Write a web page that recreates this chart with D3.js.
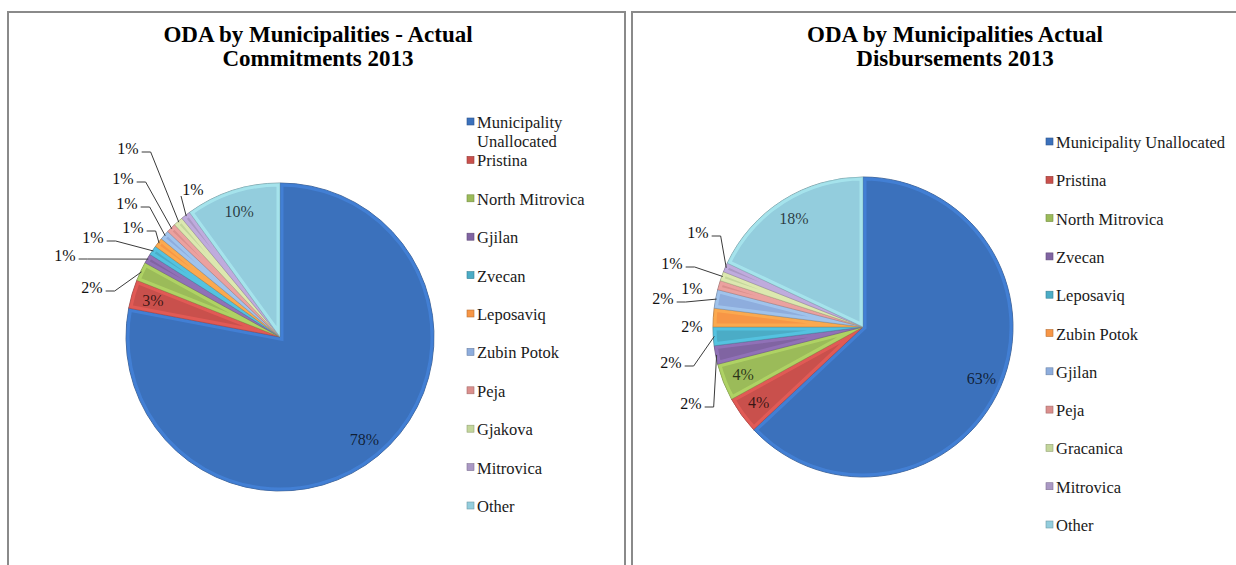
<!DOCTYPE html>
<html>
<head>
<meta charset="utf-8">
<script src="https://cdn.jsdelivr.net/npm/d3@7"></script>
<style>
  html, body { margin: 0; padding: 0; background: #ffffff; }
  svg { display: block; }
</style>
</head>
<body>
<svg id="chart" width="1236" height="565" font-family="'Liberation Serif', 'Times New Roman', Times, serif"></svg>
<script>
// ---------- DATA ----------
const leftTitle = ["ODA by Municipalities - Actual", "Commitments 2013"];
const leftCategories = ["Municipality Unallocated", "Pristina", "North Mitrovica", "Gjilan", "Zvecan",
  "Leposaviq", "Zubin Potok", "Peja", "Gjakova", "Mitrovica", "Other"];
const leftValues = [78, 3, 2, 1, 1, 1, 1, 1, 1, 1, 10];

const rightTitle = ["ODA by Municipalities Actual", "Disbursements 2013"];
const rightCategories = ["Municipality Unallocated", "Pristina", "North Mitrovica", "Zvecan", "Leposaviq",
  "Zubin Potok", "Gjilan", "Peja", "Gracanica", "Mitrovica", "Other"];
const rightValues = [63, 4, 4, 2, 2, 2, 2, 1, 1, 1, 18];

// ---------- STYLE / LAYOUT ----------
const FONT = "'Liberation Serif', 'Times New Roman', Times, serif";
const palette = ["#3B71BC", "#C9504C", "#9BBB59", "#8064A2", "#4BACC6", "#F79646",
  "#8EADDD", "#DB8F8D", "#C3D69B", "#AA98C4", "#93CDDD"];

// label placement for each slice: null = inside label; otherwise offset of text center from pie center
const leftLabelLayout = [
  null, null,
  {dx: -188, dy: -50, lead: "right"},
  {dx: -215, dy: -82, lead: "right"},
  {dx: -187, dy: -100, lead: "right"},
  {dx: -147, dy: -110, lead: "right"},
  {dx: -153, dy: -134, lead: "right"},
  {dx: -157, dy: -159, lead: "right"},
  {dx: -152, dy: -189, lead: "right"},
  {dx: -87, dy: -148, lead: "bl"},
  null
];
const rightLabelLayout = [
  null, null, null,
  {dx: -172, dy: 76, lead: "right"},
  {dx: -192, dy: 35, lead: "right"},
  {dx: -171, dy: -1, lead: "none"},
  {dx: -200, dy: -29, lead: "right"},
  {dx: -171, dy: -39, lead: "none"},
  {dx: -191, dy: -64, lead: "right"},
  {dx: -165, dy: -95, lead: "right"},
  null
];

const svg = d3.select("#chart");
const defs = svg.append("defs");

// panels
svg.append("rect").attr("x", 8).attr("y", 12).attr("width", 617).attr("height", 620)
  .attr("fill", "#fff").attr("stroke", "#8a8a8a").attr("stroke-width", 2);
svg.append("rect").attr("x", 632).attr("y", 12).attr("width", 660).attr("height", 620)
  .attr("fill", "#fff").attr("stroke", "#8a8a8a").attr("stroke-width", 2);

function drawChart(opt) {
  const g = svg.append("g").attr("font-family", FONT);
  // title (two separate lines)
  opt.title.forEach((line, i) => {
    g.append("text").attr("x", opt.titleX).attr("y", 42 + i * 23.5).attr("font-family", FONT)
      .attr("text-anchor", "middle").attr("font-size", 23).attr("font-weight", "bold").attr("fill", "#000")
      .text(line);
  });

  const data = opt.categories.map((c, i) => ({cat: c, value: opt.values[i], color: palette[i], i}));
  const pie = d3.pie().sort(null).value(d => d.value).startAngle(0).endAngle(2 * Math.PI);
  const arcs = pie(data);
  const r = opt.r;
  const arc = d3.arc().innerRadius(0).outerRadius(r);
  const pg = g.append("g").attr("transform", `translate(${opt.cx},${opt.cy})`);

  arcs.forEach((a, k) => {
    const id = `${opt.id}-clip-${k}`;
    defs.append("clipPath").attr("id", id).append("path").attr("d", arc(a))
      .attr("transform", `translate(${opt.cx},${opt.cy})`);
    pg.append("path").attr("d", arc(a)).attr("fill", a.data.color);
    const hl = g.append("g").attr("clip-path", `url(#${id})`);
    hl.append("path").attr("d", arc(a)).attr("transform", `translate(${opt.cx},${opt.cy})`)
      .attr("fill", "none").attr("stroke", d3.color(a.data.color).brighter(0.7))
      .attr("stroke-width", 7).attr("stroke-opacity", 0.45);
    pg.append("path").attr("d", arc(a)).attr("fill", "none")
      .attr("stroke", d3.color(a.data.color).darker(1.2)).attr("stroke-width", 0.9).attr("stroke-opacity", 0.85);
  });

  // labels
  const lg = g.append("g").attr("transform", `translate(${opt.cx},${opt.cy})`);
  arcs.forEach((a, k) => {
    const lay = opt.layout[k];
    const pct = Math.round(a.data.value) + "%";
    const mid = (a.startAngle + a.endAngle) / 2;
    if (!lay) {
      const rr = r * 0.86;
      lg.append("text").attr("x", rr * Math.sin(mid)).attr("y", -rr * Math.cos(mid)).attr("font-family", FONT)
        .attr("dy", "0.35em").attr("text-anchor", "middle").attr("font-size", 16)
        .attr("fill", "#000").attr("fill-opacity", 0.72).text(pct);
      return;
    }
    const txt = lg.append("text").attr("x", lay.dx).attr("y", lay.dy).attr("dy", "0.35em").attr("font-family", FONT)
      .attr("text-anchor", "middle").attr("font-size", 16).attr("fill", "#111").text(pct);
    const w = txt.node().getComputedTextLength();
    const end = [(r - 1) * Math.sin(mid), -(r - 1) * Math.cos(mid)];
    let pts = null;
    if (lay.lead === "right") {
      const s = [lay.dx + w / 2 + 3, lay.dy + 4];
      pts = [s, [s[0] + 9, s[1]], end];
    } else if (lay.lead === "bl") {
      pts = [[lay.dx - 12, lay.dy + 7], end];
    }
    if (pts) {
      lg.append("path").attr("d", d3.line()(pts)).attr("fill", "none")
        .attr("stroke", "#3a3a3a").attr("stroke-width", 1);
    }
  });

  // legend
  const leg = g.append("g");
  data.forEach((d, i) => {
    const lines = opt.legWrap && i === 0 ? ["Municipality", "Unallocated"] : [d.cat];
    const ly = opt.legY + i * opt.legStep;
    leg.append("rect").attr("x", opt.legX).attr("y", ly - 10).attr("width", 7).attr("height", 7)
      .attr("fill", d.color).attr("stroke", d3.color(d.color).darker(0.8)).attr("stroke-width", 0.6);
    lines.forEach((ln, j) => {
      leg.append("text").attr("x", opt.legX + 10).attr("y", ly + j * 19).attr("font-family", FONT)
        .attr("font-size", 16.5).attr("fill", "#1a1a1a").text(ln);
    });
  });
}

drawChart({id: "L", title: leftTitle, titleX: 318, categories: leftCategories, values: leftValues,
  cx: 280, cy: 337, r: 154, layout: leftLabelLayout, legX: 467, legY: 128, legStep: 38.4, legWrap: true});
drawChart({id: "R", title: rightTitle, titleX: 955, categories: rightCategories, values: rightValues,
  cx: 863, cy: 327, r: 150, layout: rightLabelLayout, legX: 1046, legY: 148, legStep: 38.3, legWrap: false});
</script>
</body>
</html>
